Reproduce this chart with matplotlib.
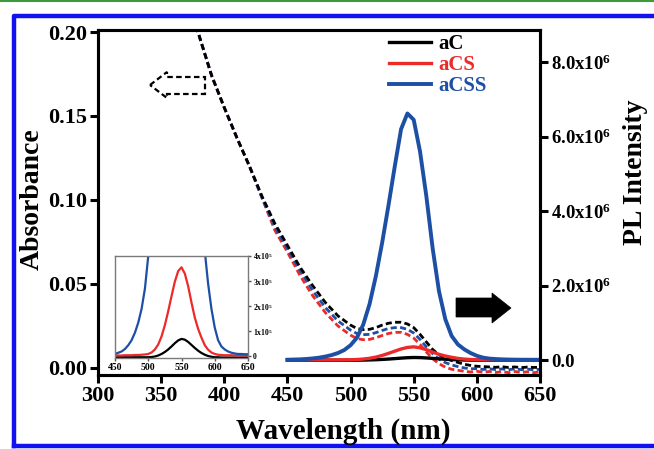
import matplotlib
matplotlib.use("Agg")
import matplotlib.pyplot as plt
from matplotlib.patches import Polygon
from matplotlib.lines import Line2D

plt.rcParams.update({
    "font.family": "Liberation Serif",
    "font.weight": "bold",
    "mathtext.fontset": "custom",
    "mathtext.rm": "Liberation Serif:bold",
    "mathtext.it": "Liberation Serif:bold",
    "mathtext.bf": "Liberation Serif:bold",
    "axes.linewidth": 2.2,
})

# absorbance (left axis)
abs_wl = [370, 380, 390, 400, 410, 420, 430, 440, 450, 460, 470, 480, 490, 500,
          505, 510, 515, 520, 525, 530, 535, 540, 545, 550, 555, 560, 565, 570,
          575, 580, 585, 590, 595, 600, 605, 610, 615, 620, 625, 630, 635, 640,
          645, 650]
abs_aC = [0.222, 0.198, 0.174, 0.155, 0.137, 0.120, 0.102, 0.086, 0.073, 0.060,
          0.049, 0.039, 0.031, 0.0255, 0.0235, 0.0228, 0.0230, 0.0240, 0.0255,
          0.0266, 0.0272, 0.0272, 0.0262, 0.0240, 0.0200, 0.0155, 0.0110, 0.0078,
          0.0058, 0.0044, 0.0033, 0.0022, 0.0015, 0.0010, 0.0008, 0.0006, 0.0004,
          0.0007, 0.0003, 0.0006, 0.0002, 0.0005, 0.0003, 0.0004]
abs_aCS = [0.222, 0.198, 0.174, 0.155, 0.137, 0.120, 0.101, 0.082, 0.069, 0.055,
           0.043, 0.033, 0.025, 0.0195, 0.0175, 0.0168, 0.0170, 0.0180, 0.0193,
           0.0205, 0.0212, 0.0212, 0.0200, 0.0178, 0.0140, 0.0095, 0.0055, 0.0025,
           0.0005, -0.0008, -0.0014, -0.0020, -0.0024, -0.0020, -0.0026, -0.0021,
           -0.0027, -0.0022, -0.0028, -0.0021, -0.0027, -0.0023, -0.0028, -0.0024]
abs_aCSS = [0.222, 0.198, 0.174, 0.155, 0.137, 0.120, 0.101, 0.084, 0.071, 0.058,
            0.046, 0.036, 0.028, 0.0225, 0.0205, 0.0198, 0.0200, 0.0210, 0.0223,
            0.0235, 0.0240, 0.0240, 0.0230, 0.0208, 0.0170, 0.0125, 0.0085, 0.0052,
            0.0032, 0.0018, 0.0008, 0.0000, -0.0005, -0.0004, -0.0009, -0.0005,
            -0.0010, -0.0006, -0.0011, -0.0005, -0.0010, -0.0007, -0.0011, -0.0008]

# PL intensity (right axis), counts
pl_wl = [450, 455, 460, 465, 470, 475, 480, 485, 490, 495, 500, 505, 510, 515,
         520, 525, 530, 535, 540, 545, 550, 555, 560, 565, 570, 575, 580, 585,
         590, 595, 600, 605, 610, 615, 620, 625, 630, 635, 640, 645, 650]
pl_aC = [-3e3, -3e3, -3e3, -3e3, -3e3, -3e3, -3e3, -3e3, -3e3, -3e3, -3e3, -2e3,
         0, 4e3, 10e3, 18e3, 28e3, 40e3, 53e3, 64e3, 70e3, 67e3, 58e3, 46e3, 34e3,
         23e3, 14e3, 7e3, 2e3, -1e3, -3e3, -3e3, -4e3, -4e3, -4e3, -4e3, -4e3,
         -4e3, -4e3, -4e3, -4e3]
pl_aCS = [4e3, 4e3, 4e3, 5e3, 5e3, 5e3, 6e3, 6e3, 7e3, 8e3, 10e3, 16e3, 28e3,
          48e3, 80e3, 125e3, 180e3, 240e3, 298e3, 340e3, 355e3, 330e3, 280e3,
          215e3, 155e3, 110e3, 75e3, 45e3, 27e3, 16e3, 10e3, 7e3, 6e3, 5e3, 5e3,
          5e3, 4e3, 4e3, 4e3, 4e3, 4e3]
pl_aCSS = [10e3, 15e3, 20e3, 30e3, 45e3, 65e3, 95e3, 135e3, 190e3, 270e3, 400e3,
           600e3, 950e3, 1.50e6, 2.25e6, 3.15e6, 4.15e6, 5.20e6, 6.20e6, 6.62e6,
           6.45e6, 5.60e6, 4.40e6, 3.00e6, 1.85e6, 1.10e6, 650e3, 420e3, 290e3,
           190e3, 115e3, 65e3, 40e3, 28e3, 20e3, 15e3, 12e3, 10e3, 10e3, 9e3, 9e3]

names = ["aC", "aCS", "aCSS"]
colors = {"aC": "#000000", "aCS": "#ec2a2a", "aCSS": "#1d4fa5"}

W, H = 654, 449
fig = plt.figure(figsize=(W / 100, H / 100), dpi=100)
ax = fig.add_axes([98 / W, 1 - 375 / H, 442 / W, 345 / H])
ax2 = ax.twinx()

# absorbance, dashed
ax.plot(abs_wl, abs_aCS, color=colors["aCS"], lw=2.0, dashes=(2.2, 1.2))
ax.plot(abs_wl, abs_aCSS, color=colors["aCSS"], lw=2.0, dashes=(2.2, 1.2))
ax.plot(abs_wl, abs_aC, color=colors["aC"], lw=2.0, dashes=(2.2, 1.2))

# PL, solid
ax2.plot(pl_wl, pl_aC, color=colors["aC"], lw=2.4, label="aC")
ax2.plot(pl_wl, pl_aCS, color=colors["aCS"], lw=2.4, label="aCS")
ax2.plot(pl_wl, pl_aCSS, color=colors["aCSS"], lw=2.8, label="aCSS")

ax.set_xlim(300, 650)
ax.set_ylim(-0.0042, 0.2012)
ax2.set_ylim(-0.40e6, 8.86e6)
ax.set_xticks([300, 350, 400, 450, 500, 550, 600, 650])
ax.set_yticks([0.00, 0.05, 0.10, 0.15, 0.20])
ax.set_yticklabels(["0.00", "0.05", "0.10", "0.15", "0.20"])
ax2.set_yticks([0, 2e6, 4e6, 6e6, 8e6])
ax2.set_yticklabels(["0.0", r"2.0x10$^{6}$", r"4.0x10$^{6}$",
                     r"6.0x10$^{6}$", r"8.0x10$^{6}$"])
ax.tick_params(axis="both", direction="out", length=6, width=2.2,
               labelsize=16, pad=2)
ax2.tick_params(axis="y", direction="out", length=6, width=2.2,
                labelsize=13.5, pad=2)

fig.text(32 / W, 1 - 199 / H, "Absorbance", rotation=90, fontsize=20,
         ha="center", va="center")
fig.text(343 / W, 1 - 431 / H, "Wavelength (nm)", fontsize=21,
         ha="center", va="center")
fig.text(623 / W, 1 - 172 / H, "PL Intensity", rotation=90, fontsize=20,
         ha="left", va="center")

leg = ax2.legend(loc="upper left", bbox_to_anchor=(0.625, 1.03), frameon=False,
                 fontsize=15, handlelength=2.0, handletextpad=0.4,
                 labelspacing=0.05, borderpad=0.2)
for txt, nm in zip(leg.get_texts(), names):
    txt.set_color(colors[nm])


def px(x, y):
    return ((x - 98) / 442, (375 - y) / 345)


# dashed outline arrow pointing left (absorbance axis)
left_arrow = [px(150, 85), px(167, 72), px(167, 77), px(205, 77), px(205, 94),
              px(167, 94), px(167, 98)]
ax.add_patch(Polygon(left_arrow, closed=True, fill=False, ec="black", lw=1.6,
                     ls=(0, (2.5, 1.5)), transform=ax.transAxes, zorder=5))
# solid arrow pointing right (PL axis)
right_arrow = [px(456, 298), px(492, 298), px(492, 293), px(511, 308),
               px(492, 323), px(492, 317), px(456, 317)]
ax2.add_patch(Polygon(right_arrow, closed=True, fc="black", ec="black", lw=0.5,
                      transform=ax2.transAxes, zorder=5))

# inset: PL zoom
axi = fig.add_axes([115 / W, 1 - 358 / H, 133 / W, 102 / H])
axi.plot(pl_wl, pl_aC, color=colors["aC"], lw=1.6)
axi.plot(pl_wl, pl_aCS, color=colors["aCS"], lw=1.6)
axi.plot(pl_wl, pl_aCSS, color=colors["aCSS"], lw=1.6)
axi.set_xlim(450, 650)
axi.set_ylim(-6e3, 4e5)
axi.set_xticks([450, 500, 550, 600, 650])
axi.set_yticks([0, 1e5, 2e5, 3e5, 4e5])
axi.set_yticklabels(["0", r"1x10$^{5}$", r"2x10$^{5}$", r"3x10$^{5}$",
                     r"4x10$^{5}$"])
axi.yaxis.tick_right()
for s in axi.spines.values():
    s.set_color("#7a7a7a")
    s.set_linewidth(1.0)
axi.tick_params(axis="x", direction="out", length=2.5, width=1.0,
                labelsize=7, pad=1, color="#555555")
axi.tick_params(axis="y", direction="out", length=2.5, width=1.0,
                labelsize=5.5, pad=1, color="#555555")

# page decorations: green rule and blue frame
fig.add_artist(Line2D([0, 1], [1 - 1 / H, 1 - 1 / H], color="#3c9a3c", lw=1.5))
fig.add_artist(Line2D([14 / W, 14 / W, 1.01], [1 - 446 / H, 1 - 16 / H, 1 - 16 / H],
                      color="#1212f0", lw=3.2))
fig.add_artist(Line2D([14 / W, 1.01], [1 - 446 / H, 1 - 446 / H],
                      color="#1212f0", lw=3.2))

fig.savefig("out.png", dpi=100)
